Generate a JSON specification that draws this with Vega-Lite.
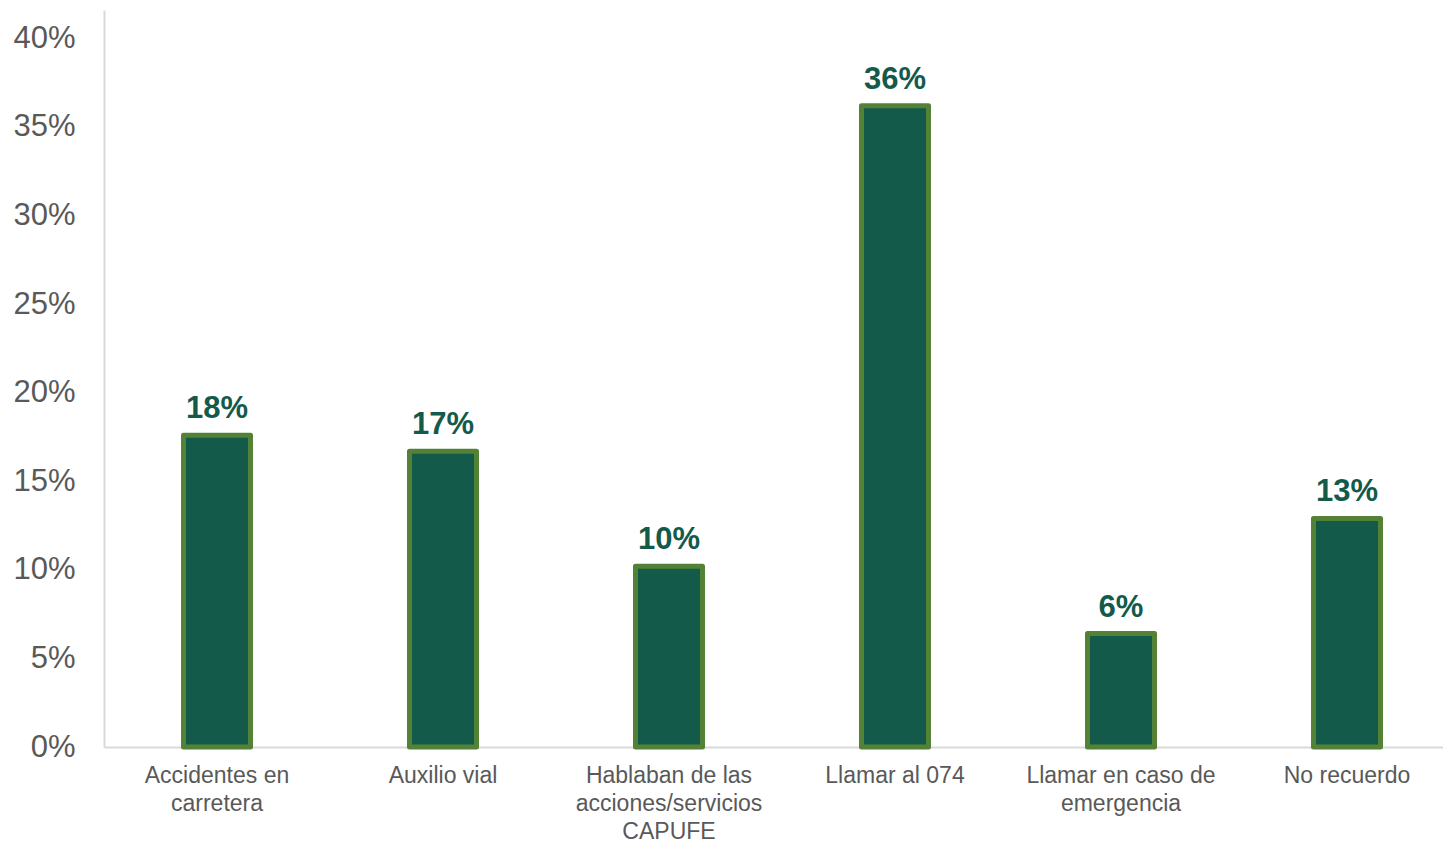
{
  "$schema": "https://vega.github.io/schema/vega-lite/v6.json",
  "autosize": {"type": "none"},
  "width": 1339,
  "height": 737,
  "padding": {"left": 104, "top": 10, "right": 0, "bottom": 95},
  "background": "white",
  "config": {"view": {"stroke": null}, "font": "Liberation Sans"},
  "data": {"values": [
    {"cat": "Accidentes en carretera", "value": 0.176, "label": "18%"},
    {"cat": "Auxilio vial", "value": 0.167, "label": "17%"},
    {"cat": "Hablaban de las acciones/servicios CAPUFE", "value": 0.102, "label": "10%"},
    {"cat": "Llamar al 074", "value": 0.362, "label": "36%"},
    {"cat": "Llamar en caso de emergencia", "value": 0.064, "label": "6%"},
    {"cat": "No recuerdo", "value": 0.129, "label": "13%"}
  ]},
  "encoding": {
    "x": {
      "field": "cat", "type": "nominal", "sort": null,
      "scale": {"range": [0, 1356], "paddingInner": 0, "paddingOuter": 0},
      "axis": {
        "title": null, "labelAngle": 0, "ticks": false,
        "domainColor": "#d9d9d9", "domainWidth": 2,
        "labelFont": "Liberation Sans", "labelFontSize": 23, "labelColor": "#595959",
        "labelPadding": 17, "labelLineHeight": 28, "labelBaseline": "top", "labelLimit": 400,
        "labelExpr": "datum.label == 'Accidentes en carretera' ? ['Accidentes en', 'carretera'] : datum.label == 'Hablaban de las acciones/servicios CAPUFE' ? ['Hablaban de las', 'acciones/servicios', 'CAPUFE'] : datum.label == 'Llamar en caso de emergencia' ? ['Llamar en caso de', 'emergencia'] : datum.label"
      }
    },
    "y": {
      "field": "value", "type": "quantitative",
      "scale": {"domain": [0, 0.416], "nice": false},
      "axis": {
        "title": null, "values": [0, 0.05, 0.1, 0.15, 0.2, 0.25, 0.3, 0.35, 0.4],
        "format": ".0%", "grid": false, "ticks": false,
        "domainColor": "#d9d9d9", "domainWidth": 2,
        "labelFont": "Liberation Sans", "labelFontSize": 31, "labelColor": "#595959",
        "labelPadding": 29
      }
    }
  },
  "layer": [
    {
      "mark": {"type": "bar", "size": 67, "fill": "#145a4b", "stroke": "#538135", "strokeWidth": 5, "strokeJoin": "round"}
    },
    {
      "mark": {"type": "text", "baseline": "alphabetic", "dy": -17, "font": "Liberation Sans", "fontSize": 31, "fontWeight": "bold", "color": "#145a4b"},
      "encoding": {"text": {"field": "label"}}
    }
  ]
}
